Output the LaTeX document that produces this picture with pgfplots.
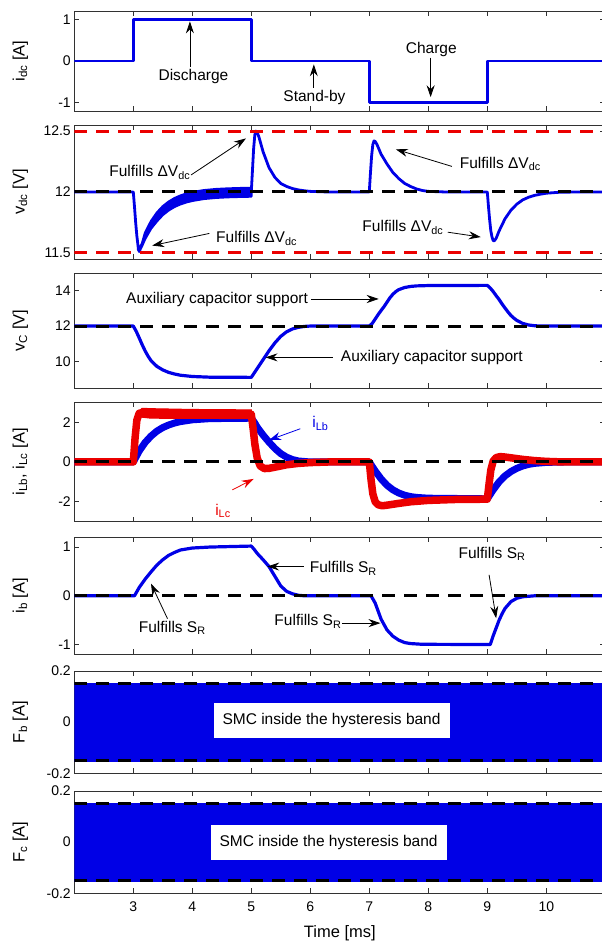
\documentclass[border=0pt]{standalone}
\usepackage{pgfplots}
\pgfplotsset{compat=1.18}
\usepackage{fontspec}
\setmainfont{Liberation Sans}
\usetikzlibrary{arrows.meta}
\definecolor{mblue}{RGB}{0,0,230}
\definecolor{mred}{RGB}{235,0,0}
\definecolor{axgray}{RGB}{50,50,50}
\tikzset{
  arr/.style={-{Stealth[length=12pt,width=8pt,inset=4pt]}, line width=0.8pt},
  ann/.style={font=\fontsize{15.5}{18}\selectfont, inner sep=1pt},
}
\pgfplotsset{
  base/.style={
    scale only axis, width=531pt, xmin=2, xmax=11,
    xtick={3,4,5,6,7,8,9,10}, xticklabel=\empty,
    axis line style={axgray, line width=0.6pt},
    every tick/.style={axgray, line width=0.6pt},
    major tick length=5pt,
    /pgf/number format/assume math mode=true,
    tick label style={font=\fontsize{14}{16}\selectfont},
    every axis y label/.style={at={(axis description cs:0,0.5)}, xshift=-54pt, rotate=90, anchor=center, font=\fontsize{16.5}{19}\selectfont},
    anchor=north west,
  },
  bl/.style={mblue, line width=2.8pt, line join=round},
  bdash/.style={black, line width=3pt, dash pattern=on 13pt off 9pt},
  rdash/.style={mred, line width=3pt, dash pattern=on 13pt off 9pt},
}
\begin{document}
\begin{tikzpicture}
% Panel 1: i_dc
\begin{axis}[base, at={(74.3pt,931pt)}, height=100pt, ymin=-1.2, ymax=1.2, ytick={-1,0,1},
  ylabel={i\textsubscript{dc} [A]}]
\addplot[bl] coordinates {(2,0)(3,0)(3,1)(5,1)(5,0)(7,0)(7,-1)(9,-1)(9,0)(11,0)};
\node[ann] at (axis cs:4.02,-0.37) {Discharge};
\draw[arr] (axis cs:3.96,-0.15) -- (axis cs:3.96,0.95);
\node[ann] at (axis cs:6.07,-0.87) {Stand-by};
\draw[arr] (axis cs:6.06,-0.64) -- (axis cs:6.06,-0.08);
\node[ann] at (axis cs:8.05,0.27) {Charge};
\draw[arr] (axis cs:8.04,0.08) -- (axis cs:8.04,-0.87);
\end{axis}
% Panel 2: v_dc
\begin{axis}[base, at={(74.3pt,817pt)}, height=134pt, ymin=11.45, ymax=12.55, ytick={11.5,12,12.5},
  yticklabels={11.5,12,12.5}, ylabel={v\textsubscript{dc} [V]}]
\addplot[bl] coordinates {(2,12)(3,12)(3.02,11.88)(3.04,11.75)(3.06,11.64)(3.08,11.56)(3.1,11.52)(3.12,11.53)};
\addplot[mblue, fill=mblue, line width=2.4pt, line join=round] coordinates {
 (3.08,11.56)(3.1,11.53)(3.15,11.58)(3.2,11.665)(3.3,11.76)(3.4,11.83)(3.5,11.882)(3.6,11.92)(3.7,11.949)(3.8,11.97)(3.9,11.986)(4.0,11.998)(4.2,12.014)(4.4,12.023)(4.6,12.028)(4.8,12.031)(5.0,12.033)
 (5.0,11.963)(4.8,11.961)(4.6,11.958)(4.4,11.953)(4.2,11.944)(4.0,11.928)(3.9,11.916)(3.8,11.90)(3.7,11.879)(3.6,11.85)(3.5,11.812)(3.4,11.76)(3.3,11.70)(3.2,11.615)(3.15,11.56)(3.1,11.51)(3.08,11.53)} -- cycle;
\addplot[bl] coordinates {(5,12.0)(5.02,12.18)(5.04,12.36)(5.06,12.47)(5.08,12.5)(5.1,12.49)(5.13,12.45)(5.2,12.33)(5.3,12.2)(5.4,12.12)(5.5,12.07)(5.6,12.045)(5.7,12.028)(5.8,12.017)(5.9,12.01)(6.0,12.005)(6.3,12)(7,12)
 (7.02,12.16)(7.04,12.3)(7.06,12.39)(7.08,12.42)(7.1,12.415)(7.13,12.39)(7.2,12.31)(7.3,12.23)(7.4,12.16)(7.5,12.11)(7.6,12.07)(7.7,12.045)(7.8,12.025)(7.9,12.012)(8.0,12.005)(8.3,12)(9,12)
 (9.02,11.88)(9.04,11.77)(9.06,11.68)(9.08,11.63)(9.1,11.6)(9.12,11.6)(9.15,11.62)(9.2,11.68)(9.3,11.78)(9.4,11.85)(9.5,11.9)(9.6,11.935)(9.7,11.957)(9.8,11.972)(9.9,11.982)(10.0,11.99)(10.2,11.997)(10.5,12)(11,12)};
\addplot[bdash] coordinates {(2,12)(11,12)};
\addplot[rdash] coordinates {(2,12.5)(11,12.5)};
\addplot[rdash] coordinates {(2,11.5)(11,11.5)};
\node[ann] at (axis cs:3.28,12.16) {Fulfills ΔV\textsubscript{dc}};
\draw[arr] (axis cs:3.98,12.14) -- (axis cs:4.91,12.44);
\node[ann] at (axis cs:9.22,12.23) {Fulfills ΔV\textsubscript{dc}};
\draw[arr] (axis cs:8.4,12.21) -- (axis cs:7.45,12.35);
\node[ann] at (axis cs:5.09,11.62) {Fulfills ΔV\textsubscript{dc}};
\draw[arr] (axis cs:4.29,11.66) -- (axis cs:3.32,11.56);
\node[ann] at (axis cs:7.57,11.71) {Fulfills ΔV\textsubscript{dc}};
\draw[arr] (axis cs:8.33,11.67) -- (axis cs:8.89,11.63);
\end{axis}
% Panel 3: v_C
\begin{axis}[base, at={(74.3pt,669pt)}, height=115pt, ymin=8.5, ymax=15, ytick={10,12,14},
  ylabel={v\textsubscript{C} [V]}]
\addplot[bl, line width=3.2pt] coordinates {(2,12)(3,12)(3.05,11.7)(3.1,11.33)(3.15,10.95)(3.2,10.6)(3.25,10.3)(3.3,10.05)(3.4,9.72)(3.5,9.52)(3.6,9.38)(3.7,9.29)(3.8,9.22)(4.0,9.15)(4.3,9.11)(5.0,9.1)
 (5.05,9.35)(5.1,9.6)(5.15,9.85)(5.2,10.1)(5.25,10.35)(5.3,10.6)(5.4,11.05)(5.5,11.42)(5.6,11.68)(5.7,11.84)(5.8,11.93)(5.9,11.98)(6.0,12)(7,12)
 (7.05,12.15)(7.1,12.4)(7.15,12.65)(7.2,12.88)(7.25,13.1)(7.3,13.35)(7.35,13.6)(7.4,13.8)(7.45,13.95)(7.5,14.06)(7.6,14.18)(7.7,14.24)(7.8,14.27)(8.0,14.29)(9.0,14.3)
 (9.05,14.15)(9.1,13.95)(9.15,13.72)(9.2,13.5)(9.25,13.25)(9.3,13.02)(9.35,12.8)(9.4,12.6)(9.45,12.45)(9.5,12.32)(9.6,12.15)(9.7,12.06)(9.8,12.02)(9.9,12)(11,12)};
\addplot[bdash] coordinates {(2,12)(11,12)};
\node[ann] at (axis cs:4.42,13.53) {Auxiliary capacitor support};
\draw[arr] (axis cs:6.02,13.53) -- (axis cs:7.16,13.53);
\node[ann] at (axis cs:8.06,10.23) {Auxiliary capacitor support};
\draw[arr] (axis cs:6.38,10.23) -- (axis cs:5.24,10.23);
\end{axis}
% Panel 4: i_Lb, i_Lc
\begin{axis}[base, at={(74.3pt,539.7pt)}, height=119.4pt, ymin=-3, ymax=3, ytick={-2,0,2},
  ylabel={i\textsubscript{Lb}, i\textsubscript{Lc} [A]}]
\addplot[mblue, line width=7pt, line join=round] coordinates {(2,0)(3,0)(3.1,0.55)(3.2,0.98)(3.3,1.3)(3.4,1.55)(3.5,1.73)(3.6,1.86)(3.7,1.96)(3.8,2.03)(4.0,2.12)(4.3,2.18)(5.0,2.2)
 (5.05,2.0)(5.1,1.75)(5.2,1.35)(5.3,1.0)(5.4,0.68)(5.5,0.42)(5.6,0.24)(5.7,0.12)(5.8,0.05)(6.0,0)(7,0)
 (7.1,-0.45)(7.2,-0.85)(7.3,-1.17)(7.4,-1.4)(7.5,-1.56)(7.6,-1.67)(7.7,-1.74)(7.8,-1.78)(8.0,-1.82)(9.0,-1.85)
 (9.1,-1.4)(9.2,-1.0)(9.3,-0.7)(9.4,-0.48)(9.5,-0.32)(9.6,-0.2)(9.7,-0.12)(9.8,-0.07)(10.0,-0.02)(10.3,0)(11,0)};
\addplot[mred, line width=7.5pt, line join=round] coordinates {(2,0)(3,0)(3.03,1.2)(3.06,2.1)(3.1,2.45)(3.2,2.5)(3.4,2.47)(4.0,2.42)(5.0,2.4)
 (5.03,1.7)(5.06,0.9)(5.1,0.2)(5.15,-0.2)(5.22,-0.33)(5.3,-0.32)(5.4,-0.26)(5.5,-0.2)(5.6,-0.14)(5.8,-0.07)(6.0,-0.03)(6.3,0)(7,0)
 (7.03,-0.9)(7.06,-1.6)(7.1,-2.0)(7.15,-2.15)(7.22,-2.2)(7.3,-2.17)(7.5,-2.08)(7.7,-2.0)(8.0,-1.93)(8.5,-1.88)(9.0,-1.87)
 (9.03,-1.1)(9.06,-0.4)(9.1,0.05)(9.15,0.22)(9.22,0.27)(9.3,0.25)(9.45,0.19)(9.6,0.13)(9.8,0.07)(10.0,0.03)(10.3,0)(11,0)};
\addplot[mred, fill=mred, line width=1pt] coordinates {(3.08,2.5)(3.15,2.7)(3.3,2.68)(4,2.64)(5,2.62)(5,2.18)(4,2.19)(3.3,2.2)(3.15,2.25)(3.08,2.3)} -- cycle;
\addplot[bdash] coordinates {(2,0)(11,0)};
\node[ann, text=mblue] at (axis cs:6.17,1.96) {i\textsubscript{Lb}};
\draw[arr, mblue] (axis cs:5.83,1.67) -- (axis cs:5.3,1.1);
\node[ann, text=mred] at (axis cs:4.52,-2.47) {i\textsubscript{Lc}};
\draw[arr, mred] (axis cs:4.68,-1.4) -- (axis cs:5.04,-0.85);
\end{axis}
% Panel 5: i_b
\begin{axis}[base, at={(74.3pt,404.7pt)}, height=117pt, ymin=-1.2, ymax=1.2, ytick={-1,0,1},
  ylabel={i\textsubscript{b} [A]}]
\addplot[bl, line width=3.2pt] coordinates {(2,0)(3.02,0)(3.1,0.17)(3.2,0.34)(3.3,0.49)(3.4,0.63)(3.5,0.74)(3.6,0.83)(3.7,0.89)(3.8,0.94)(4.0,0.98)(4.3,1.0)(5.0,1.02)
 (5.05,0.95)(5.1,0.87)(5.2,0.74)(5.3,0.6)(5.4,0.4)(5.5,0.2)(5.6,0.09)(5.7,0.04)(5.8,0.01)(5.9,0)(7.03,0)
 (7.1,-0.15)(7.2,-0.48)(7.3,-0.7)(7.4,-0.83)(7.5,-0.91)(7.6,-0.96)(7.7,-0.98)(7.9,-0.995)(9.05,-1.0)
 (9.1,-0.82)(9.15,-0.66)(9.2,-0.5)(9.25,-0.37)(9.3,-0.26)(9.4,-0.12)(9.5,-0.05)(9.6,-0.02)(9.8,0)(11,0)};
\addplot[bdash] coordinates {(2,0)(11,0)};
\node[ann] at (axis cs:3.66,-0.66) {Fulfills S\textsubscript{R}};
\draw[arr] (axis cs:3.58,-0.47) -- (axis cs:3.3,0.25);
\node[ann] at (axis cs:6.56,0.56) {Fulfills S\textsubscript{R}};
\draw[arr] (axis cs:5.89,0.6) -- (axis cs:5.27,0.6);
\node[ann] at (axis cs:5.96,-0.53) {Fulfills S\textsubscript{R}};
\draw[arr] (axis cs:6.54,-0.56) -- (axis cs:7.19,-0.56);
\node[ann] at (axis cs:9.08,0.86) {Fulfills S\textsubscript{R}};
\draw[arr] (axis cs:9.03,0.43) -- (axis cs:9.15,-0.46);
\end{axis}
% Panel 6: F_b
\begin{axis}[base, at={(74.3pt,271pt)}, height=102.3pt, ymin=-0.2, ymax=0.2, ytick={-0.2,0,0.2},
  yticklabels={-0.2,0,0.2}, ylabel={F\textsubscript{b} [A]}]
\addplot[fill=mblue, draw=none] coordinates {(2,-0.155)(11,-0.155)(11,0.155)(2,0.155)} -- cycle;
\addplot[bdash] coordinates {(2,0.15)(11,0.15)};
\addplot[bdash] coordinates {(2,-0.15)(11,-0.15)};
\node[ann, fill=white, minimum width=236pt, minimum height=35pt] at (axis cs:6.36,0.005) {SMC inside the hysteresis band};
\end{axis}
% Panel 7: F_c
\begin{axis}[base, at={(74.3pt,151pt)}, height=102.3pt, ymin=-0.2, ymax=0.2, ytick={-0.2,0,0.2},
  yticklabels={-0.2,0,0.2}, ylabel={F\textsubscript{c} [A]},
  xticklabels={3,4,5,6,7,8,9,10}, xticklabel style={yshift=-5pt},
  xlabel={Time [ms]}, xlabel style={at={(axis description cs:0.5,0)}, anchor=center, yshift=-40pt, font=\fontsize{16.5}{19}\selectfont}]
\addplot[fill=mblue, draw=none] coordinates {(2,-0.155)(11,-0.155)(11,0.155)(2,0.155)} -- cycle;
\addplot[bdash] coordinates {(2,0.15)(11,0.15)};
\addplot[bdash] coordinates {(2,-0.15)(11,-0.15)};
\node[ann, fill=white, minimum width=236pt, minimum height=35pt] at (axis cs:6.31,0) {SMC inside the hysteresis band};
\end{axis}
\pgfresetboundingbox
\path[use as bounding box] (0,0) rectangle (602pt,942pt);
\end{tikzpicture}
\end{document}
